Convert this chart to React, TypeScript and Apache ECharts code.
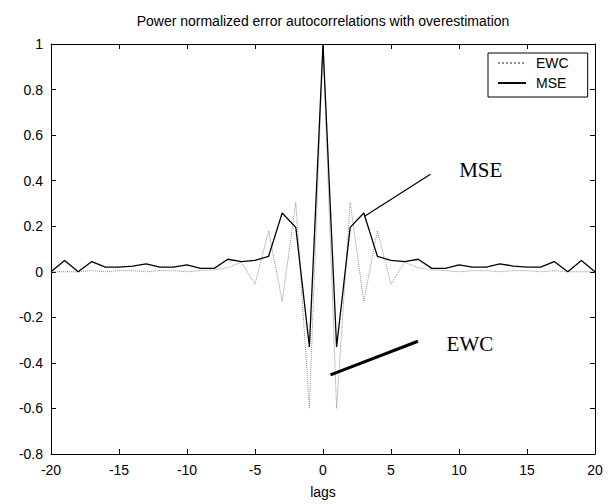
import React, { useEffect, useRef } from 'react';
import * as echarts from 'echarts';

const lags = [-20, -19, -18, -17, -16, -15, -14, -13, -12, -11, -10, -9, -8, -7, -6, -5, -4, -3, -2, -1, 0,
  1, 2, 3, 4, 5, 6, 7, 8, 9, 10, 11, 12, 13, 14, 15, 16, 17, 18, 19, 20];

const ewc = [0, 0, 0, 0.005, 0, 0.005, 0.005, 0, 0.005, 0.005, 0, 0.005, 0.008, 0.018, 0.042, -0.055, 0.18, -0.13, 0.305, -0.6, 1,
  -0.6, 0.305, -0.13, 0.18, -0.055, 0.042, 0.018, 0.008, 0.005, 0, 0.005, 0.005, 0, 0.005, 0.005, 0, 0.005, 0, 0, 0];

const mse = [0, 0.05, 0, 0.045, 0.02, 0.02, 0.025, 0.035, 0.02, 0.02, 0.03, 0.015, 0.015, 0.055, 0.045, 0.05, 0.068, 0.258, 0.195, -0.33, 1,
  -0.33, 0.195, 0.258, 0.068, 0.05, 0.045, 0.055, 0.015, 0.015, 0.03, 0.02, 0.02, 0.035, 0.025, 0.02, 0.02, 0.045, 0, 0.05, 0];

const mseArrow = [[3.06, 0.244], [7.9, 0.428]];
const ewcArrow = [[0.55, -0.453], [6.98, -0.305]];
const mseLabelAt = [11.6, 0.448];
const ewcLabelAt = [10.8, -0.317];

const SANS = '"Liberation Sans", Arial, Helvetica, sans-serif';
const SERIF = '"Liberation Serif", "Times New Roman", serif';

export default function App() {
  const ref = useRef<HTMLDivElement>(null);
  useEffect(() => {
    if (!ref.current) return;
    const chart = echarts.init(ref.current, undefined, { renderer: 'svg' });
    const fmt = (v: number) => String(Math.round(v * 10) / 10);
    const xBase = {
      type: 'value' as const,
      min: -20,
      max: 20,
      interval: 5,
      splitLine: { show: false },
      axisLine: { show: true, onZero: false, lineStyle: { color: '#000', width: 1 } },
      axisTick: { show: true, inside: true, length: 5, lineStyle: { color: '#000' } },
    };
    const yBase = {
      type: 'value' as const,
      min: -0.8,
      max: 1,
      interval: 0.2,
      splitLine: { show: false },
      axisLine: { show: true, onZero: false, lineStyle: { color: '#000', width: 1 } },
      axisTick: { show: true, inside: true, length: 5, lineStyle: { color: '#000' } },
    };
    chart.setOption({
      animation: false,
      backgroundColor: '#fff',
      title: {
        text: 'Power normalized error autocorrelations with overestimation',
        left: 323,
        top: 14,
        padding: 0,
        textAlign: 'center',
        textStyle: { fontFamily: SANS, fontSize: 14, fontWeight: 'normal', color: '#000' },
      },
      grid: { left: 51, right: 15, top: 44, bottom: 48, containLabel: false },
      legend: {
        data: ['EWC', 'MSE'],
        orient: 'vertical',
        left: 488,
        top: 53,
        padding: [3, 19, 7, 9],
        itemGap: 6,
        itemWidth: 28,
        itemHeight: 14,
        borderColor: '#000',
        borderWidth: 1,
        backgroundColor: '#fff',
        selectedMode: false,
        itemStyle: { opacity: 0, color: 'transparent', borderWidth: 0 },
        textStyle: { fontFamily: SANS, fontSize: 14, color: '#000', padding: [0, 0, 0, 5] },
      },
      xAxis: [
        {
          ...xBase,
          position: 'bottom',
          name: 'lags',
          nameLocation: 'middle',
          nameGap: 31,
          nameTextStyle: { fontFamily: SANS, fontSize: 14, color: '#000' },
          axisLabel: { show: true, margin: 9, fontFamily: SANS, fontSize: 14, color: '#000' },
        },
        { ...xBase, position: 'top', axisLabel: { show: false } },
      ],
      yAxis: [
        {
          ...yBase,
          position: 'left',
          axisLabel: { show: true, margin: 8, fontFamily: SANS, fontSize: 14, color: '#000', formatter: fmt },
        },
        { ...yBase, position: 'right', axisLabel: { show: false } },
      ],
      series: [
        {
          name: 'EWC',
          type: 'line',
          xAxisIndex: 0,
          yAxisIndex: 0,
          symbol: 'none',
          data: lags.map((l, i) => [l, ewc[i]]),
          lineStyle: { color: '#8f8f8f', width: 1, type: 'dotted' },
          itemStyle: { color: '#8f8f8f' },
          z: 2,
        },
        {
          name: 'MSE',
          type: 'line',
          xAxisIndex: 0,
          yAxisIndex: 0,
          symbol: 'none',
          data: lags.map((l, i) => [l, mse[i]]),
          lineStyle: { color: '#000', width: 1.3, type: 'solid' },
          itemStyle: { color: '#000' },
          z: 3,
          markLine: {
            silent: true,
            symbol: ['none', 'none'],
            label: { show: false },
            emphasis: { disabled: true },
            data: [
              [
                { coord: mseArrow[0], lineStyle: { color: '#000', width: 1.2, type: 'solid' } },
                { coord: mseArrow[1] },
              ],
              [
                { coord: ewcArrow[0], lineStyle: { color: '#000', width: 3, type: 'solid' } },
                { coord: ewcArrow[1] },
              ],
            ],
          },
          markPoint: {
            silent: true,
            symbol: 'circle',
            symbolSize: 0,
            itemStyle: { color: 'transparent' },
            label: {
              show: true,
              position: 'inside',
              fontFamily: SERIF,
              fontSize: 21,
              color: '#000',
              formatter: (p: any) => p.name,
            },
            data: [
              { name: 'MSE', coord: mseLabelAt },
              { name: 'EWC', coord: ewcLabelAt },
            ],
          },
        },
      ],
    });
    return () => chart.dispose();
  }, []);
  return (
    <div
      ref={ref}
      style={{ position: 'fixed', left: 0, top: 0, width: 610, height: 504, background: '#fff' }}
    />
  );
}
